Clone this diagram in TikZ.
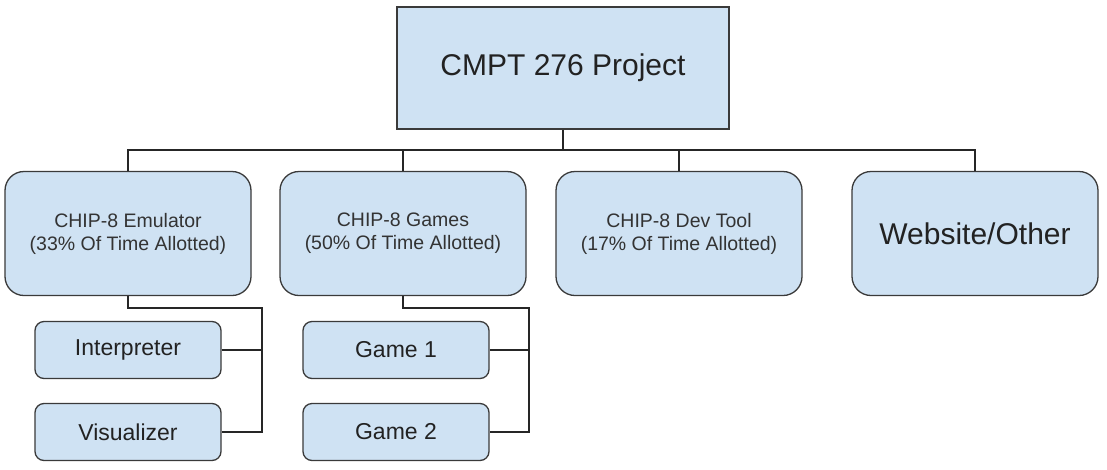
\documentclass[tikz,border=0pt]{standalone}
\usepackage{fontspec}
\setmainfont{Liberation Sans}
\definecolor{boxfill}{HTML}{CFE2F3}
\definecolor{boxline}{HTML}{3A3A3A}
\definecolor{txt}{HTML}{222222}
\definecolor{smalltxt}{HTML}{333333}
\begin{document}
\begin{tikzpicture}[x=1pt,y=-1pt,
  topbox/.style={draw=boxline, fill=boxfill, line width=1.3pt, minimum width=332pt, minimum height=122pt, text=txt, font=\fontsize{30}{36}\selectfont, inner sep=0pt},
  midbox/.style={draw=boxline, fill=boxfill, line width=1.3pt, rounded corners=19pt, minimum width=246pt, minimum height=124pt, text=smalltxt, align=center, font=\fontsize{19.5}{23}\selectfont, inner sep=0pt},
  subbox/.style={draw=boxline, fill=boxfill, line width=1.3pt, rounded corners=9pt, minimum width=186pt, minimum height=57pt, text=txt, font=\fontsize{23}{28}\selectfont, inner sep=0pt},
  link/.style={draw=black!85, line width=1.3pt}]
\useasboundingbox (0,0) rectangle (1107,469);
\fill[white] (0,0) rectangle (1107,469);
\node[topbox] (root) at (563,68) {CMPT 276 Project};
\node[midbox] (emu) at (128,233.5) {CHIP-8 Emulator\\(33\% Of Time Allotted)};
\node[midbox] (games) at (403,233.5) {CHIP-8 Games\\(50\% Of Time Allotted)};
\node[midbox] (dev) at (679,233.5) {CHIP-8 Dev Tool\\(17\% Of Time Allotted)};
\node[midbox, text=txt, font=\fontsize{30}{36}\selectfont] (web) at (975,233.5) {Website/Other};
\node[subbox] (interp) at (128,350) {Interpreter};
\node[subbox] (visual) at (128,432) {Visualizer};
\node[subbox] (game1) at (396,350) {Game 1};
\node[subbox] (game2) at (396,432) {Game 2};
\coordinate (bus) at (0,150);
\coordinate (ebend) at (262,308);
\coordinate (gbend) at (529,308);
\draw[link] (root.south) -- (root.south |- bus);
\draw[link] (emu.north) -- (emu.north |- bus) -- (web.north |- bus) -- (web.north);
\draw[link] (games.north) -- (games.north |- bus);
\draw[link] (dev.north) -- (dev.north |- bus);
\draw[link] (emu.south) |- (ebend) |- (visual.east);
\draw[link] (interp.east) -- (interp.east -| ebend);
\draw[link] (games.south) |- (gbend) |- (game2.east);
\draw[link] (game1.east) -- (game1.east -| gbend);
\end{tikzpicture}
\end{document}
